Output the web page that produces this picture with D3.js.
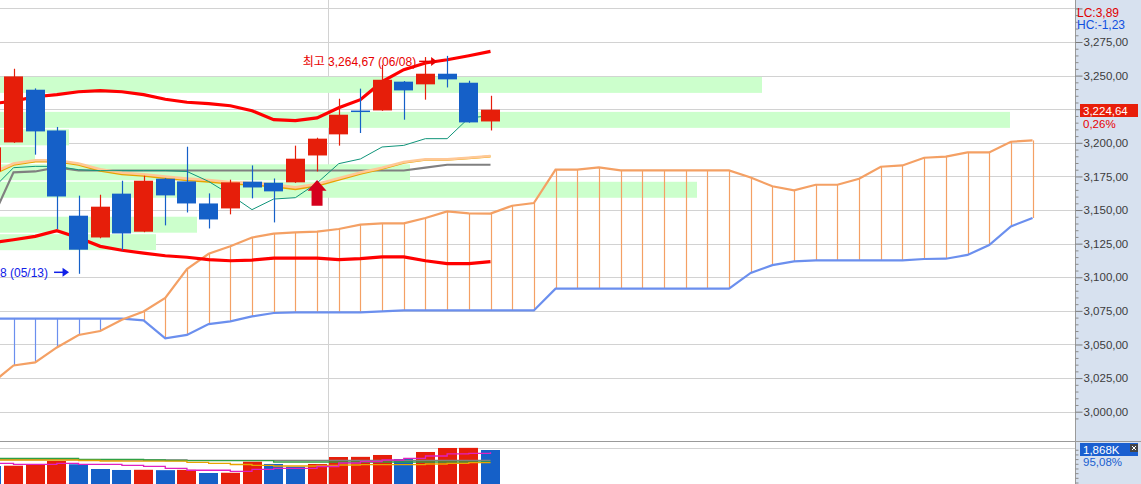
<!DOCTYPE html>
<html><head><meta charset="utf-8">
<script src="https://cdn.jsdelivr.net/npm/d3@7"></script>
<style>
body{margin:0;background:#fff;overflow:hidden}
svg{display:block}
text{font-family:'Liberation Sans','Noto Sans CJK KR',sans-serif}
</style></head>
<body>
<svg id="chart" width="1141" height="484"></svg>
<script>
// ---------------- DATA (i = -1 .. 22) ----------------
const dates = ["05/07","05/10","05/11","05/12","05/13","05/14","05/17","05/18","05/20","05/21","05/24","05/25","05/26","05/27","05/28","05/31","06/01","06/02","06/03","06/04","06/07","06/08","06/09","06/10"];
const open  = [3178.8,3200.3,3239.5,3209.2,3145.8,3129.6,3162.2,3133.9,3173.3,3171.3,3154.9,3151.2,3171.1,3170.3,3170.6,3190.6,3206.3,3224.0,3224.1,3245.5,3243.5,3251.4,3244.7,3215.9];
const high  = [3199.0,3255.1,3240.5,3211.8,3160.7,3161.4,3171.8,3175.5,3173.8,3197.1,3162.4,3172.6,3183.2,3173.5,3197.9,3203.8,3232.8,3240.3,3258.1,3246.0,3263.8,3264.67,3246.2,3235.0];
const low   = [3176.0,3200.0,3191.2,3135.9,3102.58,3129.0,3120.0,3133.5,3138.6,3148.2,3136.3,3146.8,3158.7,3140.8,3170.2,3178.7,3197.9,3207.3,3223.8,3217.2,3232.1,3241.2,3215.0,3209.2];
const close = [3196.6,3249.4,3208.5,3160.1,3120.5,3152.5,3132.6,3171.8,3160.9,3154.9,3143.0,3170.6,3166.8,3163.9,3188.2,3203.1,3220.9,3223.8,3246.9,3239.0,3251.4,3247.2,3215.2,3224.64];
const volume = [1441,1449,1487,1575,1487,1361,1335,1340,1330,1338,1254,1260,1556,1495,1423,1495,1681,1685,1735,1628,1815,1922,1925,1868];

// Bollinger bands, moving averages, Ichimoku lines
const bbUpper = [3229.1,3231.0,3234.3,3235.8,3238.0,3238.8,3238.0,3235.8,3232.4,3230.2,3229.1,3227.6,3223.9,3217.2,3216.5,3218.5,3226.1,3232.1,3245.5,3254.4,3259.4,3261.8,3264.8,3268.0];
const bbLower = [3125.7,3127.9,3130.4,3134.6,3129.4,3123.0,3120.1,3118.0,3116.0,3114.9,3113.1,3112.3,3112.8,3114.3,3114.3,3114.3,3113.1,3113.8,3115.1,3115.1,3112.3,3110.1,3110.1,3111.6];
const ma20 = [3176.3,3183.7,3186.2,3186.2,3183.7,3179.3,3176.7,3175.5,3173.8,3172.2,3171.1,3169.6,3168.9,3167.6,3165.5,3168.1,3172.6,3177.0,3180.7,3185.2,3187.4,3187.4,3188.6,3189.9];
const maPeach = [3177.5,3184.6,3187.0,3187.0,3184.6,3180.4,3177.8,3176.6,3175.0,3173.4,3172.3,3170.8,3170.1,3168.9,3166.9,3169.3,3173.6,3177.9,3181.4,3185.7,3187.8,3187.8,3188.9,3190.2];
const kijun = [3142.8,3178.0,3178.7,3181.7,3179.4,3179.4,3179.4,3179.4,3179.4,3179.4,3179.4,3179.4,3179.4,3179.4,3179.4,3179.4,3179.4,3179.4,3179.4,3179.4,3181.5,3183.7,3183.7,3183.7];
const tenkan = [3165.1,3181.5,3182.5,3182.5,3180.0,3179.3,3179.3,3179.3,3179.3,3178.7,3171.3,3161.4,3150.3,3158.2,3159.2,3170.1,3184.5,3188.0,3196.9,3198.1,3203.1,3203.1,3218.5,3220.2];

// Leading spans (i = -1 .. 47, shifted 25 bars ahead)
const spanA = [3021.2,3034.4,3036.7,3047.8,3057.1,3060.0,3068.4,3074.6,3084.6,3106.1,3117.5,3123.0,3129.6,3132.4,3133.4,3133.9,3135.9,3139.1,3140.1,3140.1,3144.1,3149.0,3147.5,3147.4,3153.2,3155.2,3180.0,3180.0,3181.7,3179.5,3179.5,3179.5,3179.5,3179.5,3179.5,3174.2,3167.7,3164.6,3168.8,3168.8,3173.3,3182.2,3183.2,3188.9,3189.7,3192.9,3192.9,3200.8,3201.8];
const spanB = [3069.2,3069.2,3069.2,3069.2,3069.2,3069.2,3069.2,3067.9,3054.5,3057.1,3065.2,3067.2,3070.9,3073.4,3073.9,3073.9,3073.9,3073.9,3074.6,3075.3,3075.3,3075.3,3075.3,3075.3,3075.3,3075.3,3091.5,3091.5,3091.5,3091.5,3091.5,3091.5,3091.5,3091.5,3091.5,3103.2,3109.0,3111.8,3112.5,3112.5,3112.5,3112.5,3112.5,3113.6,3113.8,3116.6,3124.0,3137.8,3144.1];

// Volume moving averages
const volMa5   = [1513,1487,1487,1513,1487,1487,1460,1433,1380,1327,1327,1300,1353,1380,1380,1428,1521,1561,1601,1647,1708,1762,1780,1807];
const volMa20  = [1601,1601,1601,1601,1588,1575,1569,1569,1569,1540,1513,1481,1460,1441,1441,1455,1468,1476,1476,1476,1495,1513,1529,1529];
const volMa60  = [1647,1647,1647,1647,1620,1620,1620,1601,1588,1583,1583,1583,1583,1548,1548,1548,1548,1548,1548,1548,1548,1548,1548,1548];
const volMa120 = [1615,1615,1615,1615,1601,1601,1601,1601,1601,1590,1590,1590,1590,1590,1590,1590,1590,1590,1590,1590,1590,1590,1590,1590];

// Volume-by-price profile
const profileEdges  = [3106.4,3119.4,3132.4,3145.4,3158.4,3171.4,3184.4,3197.4,3210.4,3223.4,3236.4,3249.4,3262.4];
const profileVolume = [0,15.6,19.7,0,69.7,41.0,3.5,6.9,101.0,0,76.2,0];

// Axis ticks and panel labels
const yTicks = [3000,3025,3050,3075,3100,3125,3150,3175,3200,3225,3250,3275];
const gridExtra = [3300];
const lcText = "LC:3,89", hcText = "HC:-1,23";
const changeText = "0,26%";
const volText = "1,868K", volPctText = "95,08%";

// ---------------- DRAWING ----------------
const W = 1141, H = 484, plotR = 1075, mainB = 441;
const idx = d3.range(-1, 23);
const cIdx = d3.range(-1, 48);
const x = d3.scaleLinear().domain([0, 22]).range([13.5, 490.5]);
const y = d3.scaleLinear().domain([3000, 3275]).range([411.7, 42]);
const vy = d3.scaleLinear().domain([0, 1868]).range([520, 450]);
const px = d3.scaleLinear().domain([0, 101]).range([0, 1010]);
const bw = 19;
const RED = "#e61e0a", BLUE = "#1560c8";
const fmt = v => d3.format(",.2f")(v).replace(/\.(\d+)$/, ",$1");

const svg = d3.select("#chart");
const defs = svg.append("defs");
defs.append("clipPath").attr("id","cm").append("rect").attr("x",0).attr("y",0).attr("width",plotR).attr("height",mainB);
defs.append("clipPath").attr("id","cv").append("rect").attr("x",0).attr("y",mainB).attr("width",plotR).attr("height",H-mainB);

const main = svg.append("g").attr("clip-path","url(#cm)");
const vol = svg.append("g").attr("clip-path","url(#cv)");

// grid
main.selectAll("line.g").data(yTicks.concat(gridExtra)).join("line")
  .attr("x1",0).attr("x2",plotR).attr("y1",d=>Math.round(y(d))+0.5).attr("y2",d=>Math.round(y(d))+0.5)
  .attr("stroke","#d2d2d2").attr("stroke-width",1);
// month boundaries
const monthBreaks = idx.filter((d,k)=>k>0 && dates[k].slice(0,2)!==dates[k-1].slice(0,2));
[main, vol].forEach(g=>{
  g.selectAll("line.v").data(monthBreaks).join("line")
    .attr("x1",d=>Math.round((x(d)+x(d-1))/2)+0.5).attr("x2",d=>Math.round((x(d)+x(d-1))/2)+0.5)
    .attr("y1",0).attr("y2",H).attr("stroke","#d2d2d2").attr("stroke-width",1);
});

// volume profile
const prof = profileVolume.map((v,k)=>({v, lo:profileEdges[k], hi:profileEdges[k+1]})).filter(d=>d.v>0);
main.selectAll("rect.p").data(prof).join("rect")
  .attr("x",0).attr("width",d=>px(d.v))
  .attr("y",d=>y(d.hi)+0.5).attr("height",d=>y(d.lo)-y(d.hi)-1.5)
  .attr("fill","#ccffcc");

// cloud hatch
main.selectAll("line.h").data(cIdx).join("line")
  .attr("x1",d=>Math.round(x(d))+0.5).attr("x2",d=>Math.round(x(d))+0.5)
  .attr("y1",(d,k)=>y(spanA[k])).attr("y2",(d,k)=>y(spanB[k]))
  .attr("stroke",(d,k)=>spanA[k]>=spanB[k]?"#f4a064":"#6b8fee").attr("stroke-width",1.2);

const lineC = arr => d3.line().x((d,k)=>x(cIdx[k])).y(d=>y(d))(arr);
const lineP = arr => d3.line().x((d,k)=>x(idx[k])).y(d=>y(d))(arr);
main.append("path").attr("d",lineC(spanB)).attr("fill","none").attr("stroke","#6b8fee").attr("stroke-width",2.2);
main.append("path").attr("d",lineC(spanA)).attr("fill","none").attr("stroke","#f4a064").attr("stroke-width",2.2);

// Bollinger
[bbUpper, bbLower].forEach(a=>main.append("path").attr("d",lineP(a)).attr("fill","none").attr("stroke","#ff0000").attr("stroke-width",3.2));
// moving averages
main.append("path").attr("d",lineP(kijun)).attr("fill","none").attr("stroke","#808080").attr("stroke-width",2.2);
main.append("path").attr("d",lineP(ma20)).attr("fill","none").attr("stroke","#e8a400").attr("stroke-width",2.2);
main.append("path").attr("d",lineP(maPeach)).attr("fill","none").attr("stroke","#ffc896").attr("stroke-width",2.6);
main.append("path").attr("d",lineP(tenkan)).attr("fill","none").attr("stroke","#10957a").attr("stroke-width",1);

// candles
const cd = idx.map((d,k)=>({i:d,o:open[k],h:high[k],l:low[k],c:close[k]}));
const cg = main.selectAll("g.c").data(cd).join("g");
cg.append("line")
  .attr("x1",d=>Math.round(x(d.i))+0.5).attr("x2",d=>Math.round(x(d.i))+0.5)
  .attr("y1",d=>y(d.h)).attr("y2",d=>y(d.l))
  .attr("stroke",d=>d.c>=d.o?RED:BLUE).attr("stroke-width",1.2);
cg.append("rect")
  .attr("x",d=>Math.round(x(d.i)-bw/2)).attr("width",bw)
  .attr("y",d=>y(Math.max(d.o,d.c))).attr("height",d=>Math.max(1.5,Math.abs(y(d.o)-y(d.c))))
  .attr("fill",d=>d.c>=d.o?RED:BLUE);

// buy signal arrow
const sigI = 14, sk = idx.indexOf(sigI);
{
  const cx = x(sigI), t = y(low[sk]) + 8.6;
  const p = `M${cx},${t} L${cx+9.5},${t+10.7} L${cx+5.5},${t+10.7} L${cx+5.5},${t+25.7} L${cx-5.5},${t+25.7} L${cx-5.5},${t+10.7} L${cx-9.5},${t+10.7} Z`;
  main.append("path").attr("d",p).attr("fill","#d5001c");
}

// high / low labels
const hk = d3.maxIndex(high), lk = d3.minIndex(low);
{
  const hx = x(idx[hk]), hy = y(high[hk]);
  main.append("text").attr("x",hx-31).attr("y",hy+10).attr("text-anchor","end")
    .attr("font-size",12).attr("fill","#e80000").text(`최고 ${fmt(high[hk])} (${dates[hk]})`);
  main.append("line").attr("x1",hx-28).attr("x2",hx-13).attr("y1",hy+5.5).attr("y2",hy+5.5).attr("stroke","#e80000").attr("stroke-width",1.5);
  main.append("path").attr("d",`M${hx-10},${hy+5.5} L${hx-16},${hy+1} L${hx-16},${hy+10} Z`).attr("fill","#e80000");
  const lx = x(idx[lk]), ly = y(low[lk]);
  main.append("text").attr("x",lx-30.5).attr("y",ly+3.5).attr("text-anchor","end")
    .attr("font-size",12).attr("fill","#1020e8").text(`최저 ${fmt(low[lk])} (${dates[lk]})`);
  main.append("line").attr("x1",lx-24.5).attr("x2",lx-15).attr("y1",ly-1.5).attr("y2",ly-1.5).attr("stroke","#1020e8").attr("stroke-width",1.5);
  main.append("path").attr("d",`M${lx-9.5},${ly-1.5} L${lx-16},${ly-6} L${lx-16},${ly+3} Z`).attr("fill","#1020e8");
}

// ---- volume pane ----
vol.append("line").attr("x1",0).attr("x2",plotR).attr("y1",448.5).attr("y2",448.5).attr("stroke","#d2d2d2");
vol.selectAll("rect.v").data(idx).join("rect")
  .attr("x",d=>Math.round(x(d)-bw/2)).attr("width",bw)
  .attr("y",(d,k)=>vy(volume[k])).attr("height",(d,k)=>H-vy(volume[k])+5)
  .attr("fill",(d,k)=>k>0 && volume[k]>=volume[k-1]?RED:BLUE);
const lineV = arr => d3.line().x((d,k)=>x(idx[k])).y(d=>vy(d)).curve(d3.curveStepAfter)(arr);
[[volMa120,"#808080"],[volMa60,"#2ea043"],[volMa20,"#e8a400"],[volMa5,"#e020c0"]].forEach(([a,c])=>
  vol.append("path").attr("d",lineV(a)).attr("fill","none").attr("stroke",c).attr("stroke-width",1.3));

// ---- right axis panel ----
const ax = svg.append("g");
ax.append("rect").attr("x",plotR).attr("y",0).attr("width",W-plotR).attr("height",H).attr("fill","#d7e1ef");
svg.append("line").attr("x1",0).attr("x2",W).attr("y1",mainB+0.5).attr("y2",mainB+0.5).attr("stroke","#9a9a9a");
ax.append("line").attr("x1",plotR+0.5).attr("x2",plotR+0.5).attr("y1",0).attr("y2",H).attr("stroke","#9a9a9a");

const minorT = d3.range(2995, 3300, 5).filter(v=>v%25!==0 && y(v)>2 && y(v)<mainB-2);
ax.append("g").attr("transform",`translate(${plotR+0.5},0)`)
  .call(d3.axisRight(y).tickValues(minorT).tickSize(3).tickFormat(""))
  .call(g=>{g.select(".domain").remove(); g.selectAll("line").attr("stroke","#8a8a8a");});
ax.append("g").attr("transform",`translate(${plotR+0.5},0)`)
  .call(d3.axisRight(y).tickValues(gridExtra).tickSize(7).tickFormat(""))
  .call(g=>{g.select(".domain").remove(); g.selectAll("line").attr("stroke","#7a7a7a");});
ax.append("g").attr("transform",`translate(${plotR+0.5},0)`)
  .call(d3.axisRight(y).tickValues(yTicks).tickSize(7).tickPadding(1).tickFormat(fmt))
  .call(g=>{g.select(".domain").remove(); g.selectAll("line").attr("stroke","#7a7a7a");
    g.selectAll("text").attr("fill","#3c3c3c").attr("font-size",11.5).attr("font-family","'Liberation Sans',sans-serif");});
// volume axis minor ticks
ax.append("g").attr("transform",`translate(${plotR+0.5},0)`)
  .call(d3.axisRight(vy).tickValues(d3.range(750,2000,125).filter(v=>vy(v)>mainB+2)).tickSize(3).tickFormat(""))
  .call(g=>{g.select(".domain").remove(); g.selectAll("line").attr("stroke","#8a8a8a");});

ax.append("text").attr("x",plotR+2).attr("y",17).attr("font-size",12).attr("fill","#e00000").text(lcText);
ax.append("text").attr("x",plotR+2).attr("y",29).attr("font-size",12).attr("fill","#1050e0").text(hcText);

const cy = y(close[close.length-1]);
ax.append("rect").attr("x",1080).attr("y",Math.round(cy)-6).attr("width",58).attr("height",13).attr("fill","#e81e0a");
ax.append("text").attr("x",1083).attr("y",Math.round(cy)+4.5).attr("font-size",11.5).attr("fill","#fff").text(fmt(close[close.length-1]));
ax.append("text").attr("x",1083).attr("y",Math.round(cy)+18).attr("font-size",11.5).attr("fill","#e80000").text(changeText);

const vyy = vy(volume[volume.length-1]);
ax.append("rect").attr("x",1080).attr("y",Math.round(vyy)-7).attr("width",58).attr("height",13).attr("fill","#1a5fd0");
ax.append("text").attr("x",1083).attr("y",Math.round(vyy)+4).attr("font-size",11.5).attr("fill","#fff").text(volText);
ax.append("rect").attr("x",1130).attr("y",Math.round(vyy)-6).attr("width",8).attr("height",8).attr("fill","#454545");
ax.append("path").attr("d",`M1132,${Math.round(vyy)-4} L1136,${Math.round(vyy)} M1136,${Math.round(vyy)-4} L1132,${Math.round(vyy)}`).attr("stroke","#fff").attr("stroke-width",1);
ax.append("text").attr("x",1083).attr("y",Math.round(vyy)+16).attr("font-size",11.5).attr("fill","#1a5fd0").text(volPctText);
</script>
</body></html>
